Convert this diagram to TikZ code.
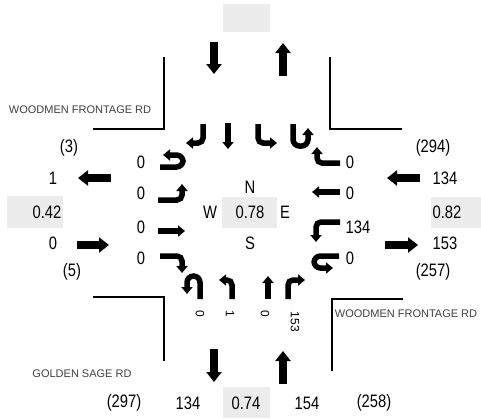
\documentclass[tikz,border=0pt]{standalone}
\usepackage{fontspec}
\setmainfont{Liberation Sans}
\newfontfamily\nf[FakeStretch=0.82]{Liberation Sans}
\usetikzlibrary{arrows.meta}
\begin{document}
\begin{tikzpicture}[x=1pt,y=-1pt,
  big/.style={line width=7.5pt,-{Triangle[width=15pt,length=10pt]}},
  lane/.style={line width=5.5pt,rounded corners=5pt,-{Triangle[width=11pt,length=7pt]}},
  uturn/.style={lane,rounded corners=6.5pt},
  num/.style={inner sep=0pt,font=\nf\fontsize{18}{20}\selectfont},
  rot/.style={inner sep=0pt,rotate=-90,font=\fontsize{12}{14}\selectfont},
  road/.style={inner sep=0pt,text=black!75,font=\fontsize{11}{13}\selectfont},
  gbox/.style={fill=gray!15,draw=none},
  corner/.style={line width=1.3pt}]
\useasboundingbox (0,0) rectangle (481,418);
% gray boxes
\fill[gbox] (223,4) rectangle (270,32);
\fill[gbox] (7,196) rectangle (63,228);
\fill[gbox] (222,197) rectangle (277,228);
\fill[gbox] (431,197) rectangle (481,228);
\fill[gbox] (223,387) rectangle (270,418);
% corner lines
\draw[corner] (93,129) -- (164,129) -- (164,57);
\draw[corner] (330,57) -- (330,129) -- (402,129);
\draw[corner] (93,297) -- (164,297) -- (164,361);
\draw[corner] (403,299) -- (332,299) -- (332,371);
% approach arrows
\draw[big] (214,42) -- (214,74);
\draw[big] (283,76) -- (283,43);
\draw[big] (111,178) -- (78,178);
\draw[big] (77,245) -- (109,245);
\draw[big] (420,178) -- (387,178);
\draw[big] (385,245) -- (418,245);
\draw[big] (214,349) -- (214,382);
\draw[big] (283,384) -- (283,351);
% north lanes
\draw[lane] (203,124) -- (203,143) -- (186,143);
\draw[lane] (228,123) -- (228,149);
\draw[lane] (258,124) -- (258,143) -- (277,143);
\draw[uturn] (293,124) -- (293,146) -- (308,146) -- (308,128);
% west lanes
\draw[uturn] (160,167) -- (183,167) -- (183,155) -- (163,155);
\draw[lane] (158,200) -- (182,200) -- (182,184);
\draw[lane] (158,231) -- (185,231);
\draw[lane] (160,256) -- (182,256) -- (182,273);
% east lanes
\draw[lane] (340,163) -- (317,163) -- (317,147);
\draw[lane] (340,192) -- (312,192);
\draw[lane] (340,222) -- (316,222) -- (316,242);
\draw[uturn] (339,256) -- (314,256) -- (314,268) -- (333,268);
% south lanes
\draw[uturn] (200,299) -- (200,276) -- (187,276) -- (187,294);
\draw[lane] (232,299) -- (232,280) -- (219,280);
\draw[lane] (268,299) -- (268,276);
\draw[lane] (288,299) -- (288,280) -- (305,280);
% road names
\node[road] (rn1) at (80,110) {WOODMEN FRONTAGE RD};
\node[road] (rn2) at (406,314) {WOODMEN FRONTAGE RD};
\node[road] (rn3) at (82,374) {GOLDEN SAGE RD};
% west side
\node[num] (w3) at (69,148) {(3)};
\node[num] (wout) at (53,178) {1};
\node[num] (wpf) at (47,212) {0.42};
\node[num] (win) at (53,243) {0};
\node[num] (w5) at (72,272) {(5)};
\node[num] (wl1) at (141,162) {0};
\node[num] (wl2) at (141,193) {0};
\node[num] (wl3) at (141,227) {0};
\node[num] (wl4) at (141,258) {0};
% center
\node[num] (cn) at (250,187) {N};
\node[num] (cw) at (210,212) {W};
\node[num] (cpf) at (250,212) {0.78};
\node[num] (ce) at (285,212) {E};
\node[num] (cs) at (250,243) {S};
% east side
\node[num] (el1) at (350,162) {0};
\node[num] (el2) at (350,193) {0};
\node[num] (el3) at (358,227) {134};
\node[num] (el4) at (350,258) {0};
\node[num] (e294) at (433,148) {(294)};
\node[num] (ein) at (445,178) {134};
\node[num] (epf) at (447,212) {0.82};
\node[num] (eout) at (445,243) {153};
\node[num] (e257) at (433,272) {(257)};
% south lane labels
\node[rot] (sl1) at (200,314) {0};
\node[rot] (sl2) at (230,314) {1};
\node[rot] (sl3) at (265,314) {0};
\node[rot] (sl4) at (295,322) {153};
% bottom row
\node[num] (b297) at (124,403) {(297)};
\node[num] (bout) at (188,403) {134};
\node[num] (bpf) at (246,403) {0.74};
\node[num] (bin) at (307,403) {154};
\node[num] (b258) at (374,403) {(258)};
\end{tikzpicture}
\end{document}
